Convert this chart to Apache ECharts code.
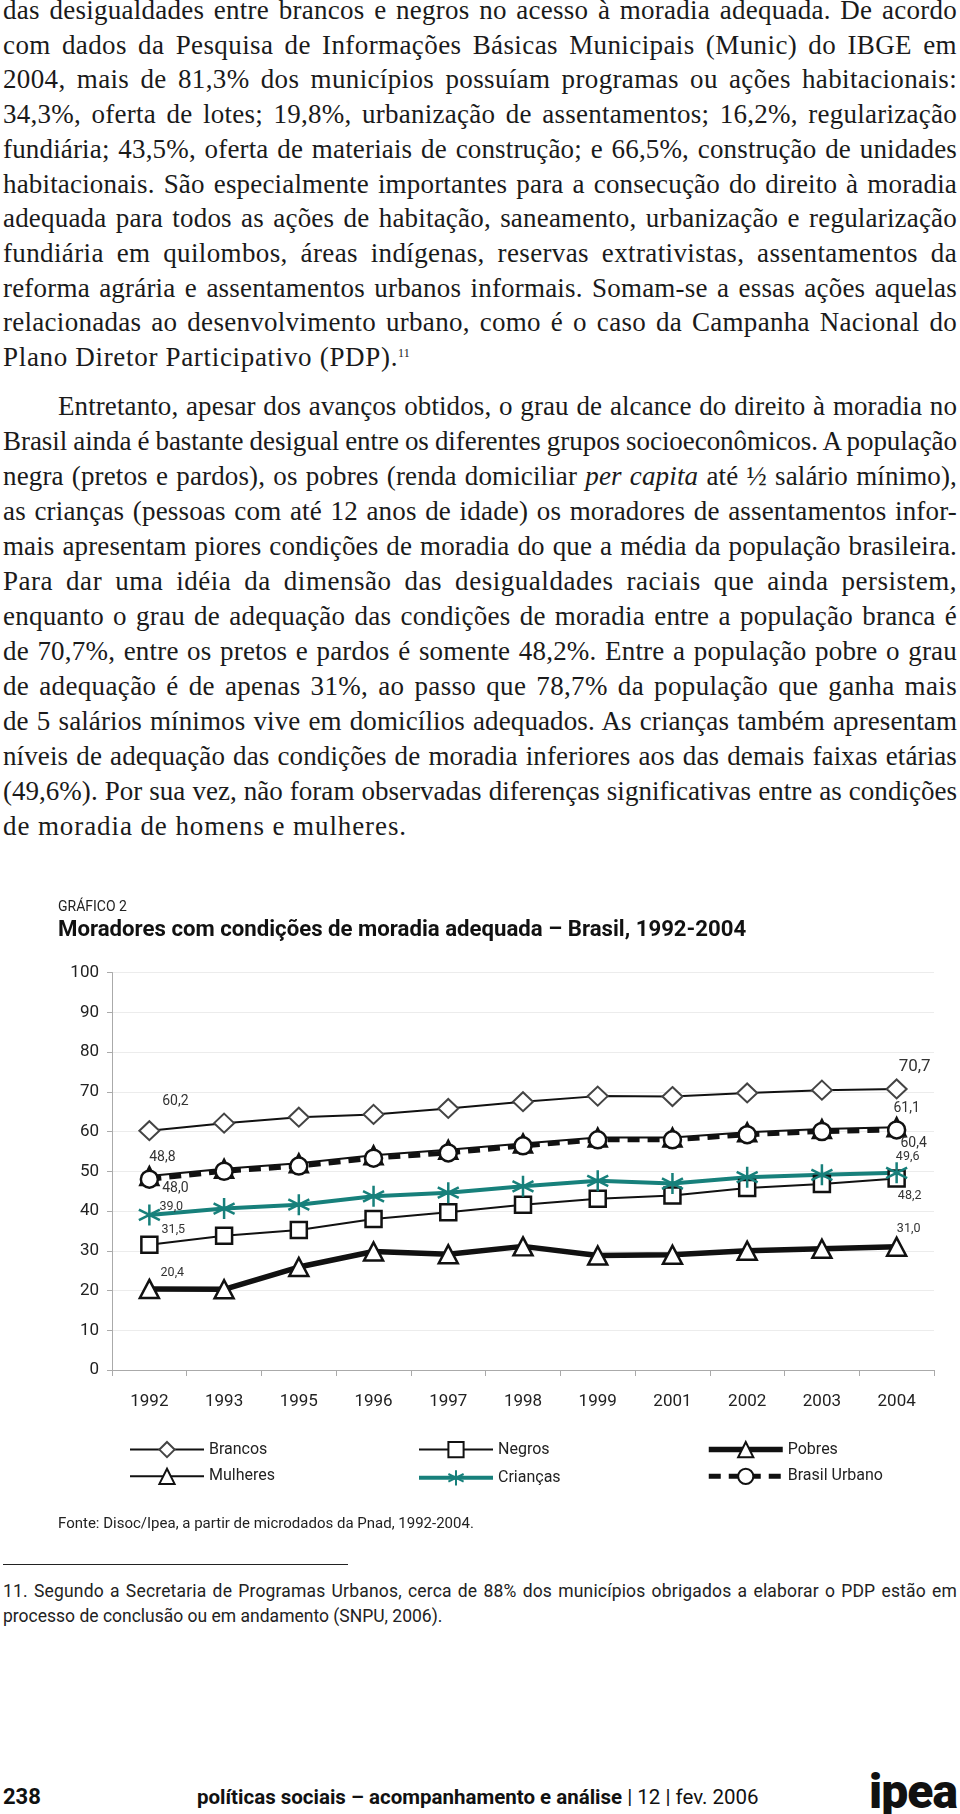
<!DOCTYPE html>
<html><head><meta charset="utf-8">
<script src="https://cdn.jsdelivr.net/npm/echarts@6/dist/echarts.min.js"></script>
<style>
html,body{margin:0;padding:0;background:#fff;}
body{width:960px;height:1814px;position:relative;overflow:hidden;}
.ln{position:absolute;height:35px;line-height:35px;font-family:"Liberation Serif","Times New Roman",serif;font-size:27px;color:#1a1a1a;white-space:nowrap;}
.fn{position:absolute;height:24px;line-height:24px;font-family:Roboto,"Liberation Sans",sans-serif;font-size:17.5px;color:#222;white-space:nowrap;}
sup{font-size:12px;position:relative;top:-4px;vertical-align:top;letter-spacing:0;}
#chart{position:absolute;left:0;top:880px;width:960px;height:660px;}
.rule{position:absolute;left:3px;top:1564px;width:345px;height:0;border-top:1.5px solid #222;}
.ft{position:absolute;font-family:Roboto,"Liberation Sans",sans-serif;color:#111;white-space:nowrap;}
</style></head>
<body>
<div id="text"></div>
<div id="chart"></div>
<div class="rule"></div>
<div id="foot"></div>
<script>
// ---------- chart data ----------
const years = ['1992','1993','1995','1996','1997','1998','1999','2001','2002','2003','2004'];
const brancos      = [60.2, 62.1, 63.6, 64.3, 65.8, 67.5, 68.9, 68.8, 69.7, 70.4, 70.7];
const negros       = [31.5, 33.8, 35.2, 38.0, 39.7, 41.6, 43.1, 43.9, 45.8, 46.8, 48.2];
const pobres       = [20.4, 20.3, 25.9, 29.8, 29.1, 31.1, 28.8, 29.0, 30.0, 30.5, 31.0];
const mulheres     = [48.8, 50.6, 52.0, 54.0, 55.4, 57.0, 58.5, 58.5, 59.8, 60.6, 61.1];
const criancas     = [39.0, 40.6, 41.6, 43.7, 44.6, 46.2, 47.6, 46.9, 48.5, 49.1, 49.6];
const brasilUrbano = [48.0, 50.0, 51.3, 53.3, 54.6, 56.4, 57.9, 57.9, 59.2, 60.0, 60.4];
const yMin = 0, yMax = 100, yStep = 10;

// ---------- page text ----------
const p1 = [
 'das desigualdades entre brancos e negros no acesso à moradia adequada. De acordo',
 'com dados da Pesquisa de Informações Básicas Municipais (Munic) do IBGE em',
 '2004, mais de 81,3% dos municípios possuíam programas ou ações habitacionais:',
 '34,3%, oferta de lotes; 19,8%, urbanização de assentamentos; 16,2%, regularização',
 'fundiária; 43,5%, oferta de materiais de construção; e 66,5%, construção de unidades',
 'habitacionais. São especialmente importantes para a consecução do direito à moradia',
 'adequada para todos as ações de habitação, saneamento, urbanização e regularização',
 'fundiária em quilombos, áreas indígenas, reservas extrativistas, assentamentos da',
 'reforma agrária e assentamentos urbanos informais. Somam-se a essas ações aquelas',
 'relacionadas ao desenvolvimento urbano, como é o caso da Campanha Nacional do',
 'Plano Diretor Participativo (PDP).<sup>11</sup>'
];
const p2 = [
 'Entretanto, apesar dos avanços obtidos, o grau de alcance do direito à moradia no',
 'Brasil ainda é bastante desigual entre os diferentes grupos socioeconômicos. A população',
 'negra (pretos e pardos), os pobres (renda domiciliar <i>per capita</i> até ½ salário mínimo),',
 'as crianças (pessoas com até 12 anos de idade) os moradores de assentamentos infor-',
 'mais apresentam piores condições de moradia do que a média da população brasileira.',
 'Para dar uma idéia da dimensão das desigualdades raciais que ainda persistem,',
 'enquanto o grau de adequação das condições de moradia entre a população branca é',
 'de 70,7%, entre os pretos e pardos é somente 48,2%. Entre a população pobre o grau',
 'de adequação é de apenas 31%, ao passo que 78,7% da população que ganha mais',
 'de 5 salários mínimos vive em domicílios adequados. As crianças também apresentam',
 'níveis de adequação das condições de moradia inferiores aos das demais faixas etárias',
 '(49,6%). Por sua vez, não foram observadas diferenças significativas entre as condições',
 'de moradia de homens e mulheres.'
];
const footLines = [
 '11. Segundo a Secretaria de Programas Urbanos, cerca de 88% dos municípios obrigados a elaborar o PDP estão em',
 'processo de conclusão ou em andamento (SNPU, 2006).'
];

function fitLine(span, W, lastLine){
  const w = span.getBoundingClientRect().width;
  const txt = span.textContent;
  const chars = txt.length;
  const n = (txt.match(/ /g)||[]).length;
  if (lastLine){
    span.style.letterSpacing = ((W - w)/chars) + 'px';
    return;
  }
  let ls = (W - w) * 0.4 / chars;
  ls = Math.max(-1.3, Math.min(0.9, ls));
  span.style.letterSpacing = ls + 'px';
  const w2 = span.getBoundingClientRect().width;
  if (n) span.style.wordSpacing = ((W - w2)/n) + 'px';
}
const textDiv = document.getElementById('text');
function addLine(cls, html, left, top, W, mode, lastW){
  const d = document.createElement('div');
  d.className = cls; d.style.left = left+'px'; d.style.top = top+'px'; d.style.width = W+'px';
  const s = document.createElement('span'); s.innerHTML = html; d.appendChild(s);
  textDiv.appendChild(d);
  if (mode === 'just') fitLine(s, W, false);
  else if (mode === 'last') fitLine(s, lastW, true);
}
p1.forEach((t,i)=> addLine('ln', t, 3, -7 + i*34.7, 954, i < p1.length-1 ? 'just' : 'last', 408));
p2.forEach((t,i)=> addLine('ln', t, i===0?58:3, 389 + i*35, i===0?899:954, i < p2.length-1 ? 'just' : 'last', 404));
footLines.forEach((t,i)=> addLine('fn', t, 3, 1579 + i*25, 954, i===0 ? 'just' : 'none'));

const foot = document.getElementById('foot');
foot.innerHTML =
 '<div class="ft" style="left:3px;top:1783px;font-size:22px;font-weight:bold;line-height:28px;">238</div>' +
 '<div class="ft" style="left:197px;top:1783px;font-size:20.5px;line-height:28px;"><b>políticas sociais – acompanhamento e análise</b> | 12 | fev. 2006</div>' +
 '<div class="ft" style="left:869px;top:1766px;font-size:48px;font-weight:900;line-height:52px;letter-spacing:-1px;">ipea</div>';

// ---------- chart ----------
const fmt = v => v.toFixed(1).replace('.', ',');
const TEAL = '#17807b';
const asterisk = 'path://M10,0L10,20M1.34,5L18.66,15M1.34,15L18.66,5';
const FONT = 'Roboto, "Liberation Sans", sans-serif';
function withLabels(arr, first, last){
  return arr.map((v,i)=>{
    const spec = i===0 ? first : (i===arr.length-1 ? last : null);
    if(!spec) return v;
    return {value:v, label:{show:true, position:'inside', offset:[spec[0],spec[1]], fontSize:spec[2],
      color:'#333', fontFamily:FONT, formatter: p=>fmt(p.value)}};
  });
}
function mk(name, data, first, last, sym, size, lineW, lineColor, extra){
  return Object.assign({
    name, type:'line', data: withLabels(data, first, last),
    symbol: sym, symbolSize: size, showAllSymbol:true,
    lineStyle:{color:lineColor, width:lineW},
    itemStyle:{color:'#fff', borderColor:'#111', borderWidth:2.5},
    label:{show:false}, emphasis:{disabled:true}
  }, extra||{});
}
const series = [
  mk('Mulheres', mulheres, [13,-19,14], [10,-19,14], 'triangle', 18, 2, '#111'),
  mk('Brasil Urbano', brasilUrbano, [26,9,14], [17,14,14], 'circle', 17, 5, '#111',
     {lineStyle:{color:'#111', width:5, type:[12,8]}}),
  mk('Negros', negros, [24,-15,12.5], [13,17,12.5], 'rect', 16, 2, '#111'),
  mk('Crianças', criancas, [22,-8,12.5], [11,-16,12.5], asterisk, 21, 4, TEAL,
     {itemStyle:{color:'none', borderColor:TEAL, borderWidth:2.5}}),
  mk('Brancos', brancos, [26,-29,14], [18,-22,17], 'diamond', [20,19], 2, '#111',
     {itemStyle:{color:'#fff', borderColor:'#444', borderWidth:2}}),
  mk('Pobres', pobres, [23,-16,12.5], [12,-18,12.5], 'triangle', [19,18], 5.5, '#111')
];
function legendCol(left, names){
  return {show:true, orient:'vertical', left, top:556, itemWidth:74, itemHeight:19, itemGap:9.5,
    selectedMode:false, data:names, lineStyle:{width:'inherit'},
    textStyle:{fontFamily:FONT, fontSize:16, color:'#222'}};
}
const chart = echarts.init(document.getElementById('chart'), null, {renderer:'canvas'});
chart.setOption({
  animation:false,
  backgroundColor:'transparent',
  grid:{left:112, right:26, top:92.5, bottom:170, outerBoundsMode:'none'},
  graphic:[
    {type:'text', left:58, top:20, style:{text:'GRÁFICO 2', font:'14px '+FONT, fill:'#222'}},
    {type:'text', left:58, top:39, style:{text:'Moradores com condições de moradia adequada – Brasil, 1992-2004', font:'bold 22.2px '+FONT, fill:'#111'}},
    {type:'text', left:58, top:637, style:{text:'Fonte: Disoc/Ipea, a partir de microdados da Pnad, 1992-2004.', font:'15px '+FONT, fill:'#222'}}
  ],
  legend:[
    legendCol(124, ['Brancos','Mulheres']),
    legendCol(412, ['Negros','Crianças']),
    legendCol(701, ['Pobres','Brasil Urbano'])
  ],
  xAxis:{type:'category', data:years, boundaryGap:true,
    axisLine:{lineStyle:{color:'#aaa', width:1}},
    axisTick:{show:true, length:6, lineStyle:{color:'#aaa'}},
    axisLabel:{margin:23, fontFamily:FONT, fontSize:17, color:'#222'}},
  yAxis:{type:'value', min:yMin, max:yMax, interval:yStep,
    axisLine:{show:true, lineStyle:{color:'#aaa', width:1}},
    axisTick:{show:true, length:5, lineStyle:{color:'#aaa'}},
    splitLine:{lineStyle:{color:'#ececec', width:1}},
    axisLabel:{margin:13, fontFamily:FONT, fontSize:17, color:'#222'}},
  series
});
</script>
</body></html>
